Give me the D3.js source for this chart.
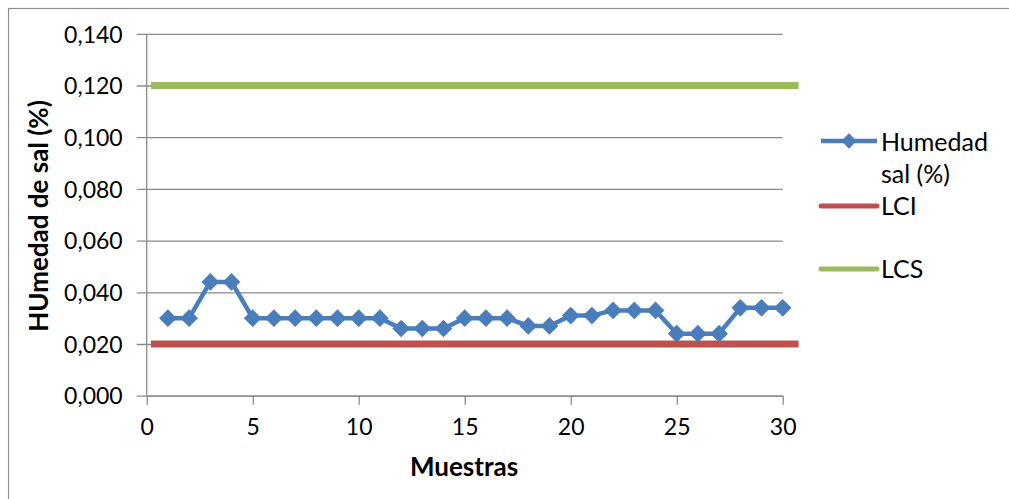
<!DOCTYPE html>
<html>
<head>
<meta charset="utf-8">
<script src="https://cdn.jsdelivr.net/npm/d3@7"></script>
<style>
  html, body { margin: 0; padding: 0; background: #fff; }
  svg { display: block; }
  text { font-family: Lato, "Open Sans", sans-serif; fill: #000; }
</style>
</head>
<body>
<svg id="chart" width="1009" height="499"></svg>
<script>
// Sample numbers and measured salt humidity (%)
const samples = [1,2,3,4,5,6,7,8,9,10,11,12,13,14,15,16,17,18,19,20,21,22,23,24,25,26,27,28,29,30];
const humedad = [0.030,0.030,0.044,0.044,0.030,0.030,0.030,0.030,0.030,0.030,
                 0.030,0.026,0.026,0.026,0.030,0.030,0.030,0.027,0.027,0.031,
                 0.031,0.033,0.033,0.033,0.024,0.024,0.024,0.034,0.034,0.034];
// Control limits (lower / upper), drawn as horizontal segments
const limitX = [0.2, 30.75];
const lci = [0.020, 0.020];
const lcs = [0.120, 0.120];
// Axis ticks
const xTicks = [0, 5, 10, 15, 20, 25, 30];
const yTicks = [0, 0.02, 0.04, 0.06, 0.08, 0.10, 0.12, 0.14];

const svg = d3.select("#chart");
const plot = { left: 146.7, right: 782.7, top: 33.8, bottom: 395.7 };

const x = d3.scaleLinear().domain([0, 30]).range([plot.left, plot.right]);
const y = d3.scaleLinear().domain([0, 0.14]).range([plot.bottom, plot.top]);
const fmt = d3.formatLocale({ decimal: ",", thousands: ".", grouping: [3], currency: ["", "€"] }).format(".3f");

const gridColor = "#8a8a8a";
const labelSize = 23;

// Outer chart border
svg.append("rect")
  .attr("x", 8.5).attr("y", 8.5).attr("width", 1020).attr("height", 520)
  .attr("fill", "none").attr("stroke", "#8f8f8f").attr("stroke-width", 1.2);

// Horizontal gridlines with outward tick marks
const yAxis = svg.append("g")
  .attr("transform", `translate(${plot.left},0)`)
  .call(d3.axisLeft(y).tickValues(yTicks).tickFormat(fmt)
        .tickSizeInner(-(plot.right - plot.left)).tickSizeOuter(0).tickPadding(24));
yAxis.select(".domain").remove();
yAxis.selectAll(".tick line").attr("stroke", gridColor).attr("stroke-width", 1.3)
  .attr("x1", -10);
yAxis.selectAll(".tick text").attr("font-size", labelSize).attr("font-family", "Lato")
  .attr("dy", "0.36em");

// Vertical axis line
svg.append("line")
  .attr("x1", plot.left).attr("x2", plot.left)
  .attr("y1", plot.top).attr("y2", plot.bottom)
  .attr("stroke", gridColor).attr("stroke-width", 1.3);

// Horizontal axis
const xAxis = svg.append("g")
  .attr("transform", `translate(0,${plot.bottom})`)
  .call(d3.axisBottom(x).tickValues(xTicks).tickFormat(d3.format("d"))
        .tickSizeInner(9).tickSizeOuter(0).tickPadding(14));
xAxis.select(".domain").attr("stroke", gridColor).attr("stroke-width", 1.3);
xAxis.selectAll(".tick line").attr("stroke", gridColor).attr("stroke-width", 1.3);
xAxis.selectAll(".tick text").attr("font-size", labelSize).attr("font-family", "Lato");

// Control limit lines
const limitLine = d3.line().x((d, i) => x(limitX[i])).y(d => y(d));
svg.append("path").datum(lci).attr("d", limitLine)
  .attr("fill", "none").attr("stroke", "#c0504d").attr("stroke-width", 7);
svg.append("path").datum(lcs).attr("d", limitLine)
  .attr("fill", "none").attr("stroke", "#9bbb59").attr("stroke-width", 7);

// Humidity series
const blue = "#4a7ebb";
const seriesLine = d3.line().x((d, i) => x(samples[i])).y(d => y(d));
svg.append("path").datum(humedad).attr("d", seriesLine)
  .attr("fill", "none").attr("stroke", blue).attr("stroke-width", 4.5)
  .attr("stroke-linejoin", "round");
const diamond = d3.symbol().type(d3.symbolDiamond2).size(200);
svg.append("g").selectAll("path").data(humedad).join("path")
  .attr("transform", (d, i) => `translate(${x(samples[i])},${y(d)})`)
  .attr("d", diamond).attr("fill", blue);

// Axis titles
svg.append("text")
  .attr("x", 464).attr("y", 476)
  .attr("text-anchor", "middle").attr("font-size", 26).attr("font-weight", "bold")
  .text("Muestras");
svg.append("text")
  .attr("transform", "translate(48,216) rotate(-90)")
  .attr("text-anchor", "middle").attr("font-size", 26).attr("font-weight", "bold")
  .text("HUmedad de sal (%)");

// Legend
const legend = svg.append("g");
const lx1 = 821, lx2 = 877, tx = 881, legendSize = 25;
legend.append("line").attr("x1", lx1).attr("x2", lx2).attr("y1", 141).attr("y2", 141)
  .attr("stroke", blue).attr("stroke-width", 4.5);
legend.append("path").attr("transform", "translate(849,141)")
  .attr("d", d3.symbol().type(d3.symbolDiamond2).size(150)).attr("fill", blue);
legend.append("text").attr("x", tx).attr("y", 151).attr("font-size", legendSize).text("Humedad");
legend.append("text").attr("x", tx).attr("y", 183).attr("font-size", legendSize).text("sal (%)");
legend.append("line").attr("x1", lx1).attr("x2", lx2).attr("y1", 206).attr("y2", 206)
  .attr("stroke", "#c0504d").attr("stroke-width", 5).attr("stroke-linecap", "round");
legend.append("text").attr("x", tx).attr("y", 215).attr("font-size", legendSize).text("LCI");
legend.append("line").attr("x1", lx1).attr("x2", lx2).attr("y1", 269).attr("y2", 269)
  .attr("stroke", "#9bbb59").attr("stroke-width", 5).attr("stroke-linecap", "round");
legend.append("text").attr("x", tx).attr("y", 278).attr("font-size", legendSize).text("LCS");
</script>
</body>
</html>
